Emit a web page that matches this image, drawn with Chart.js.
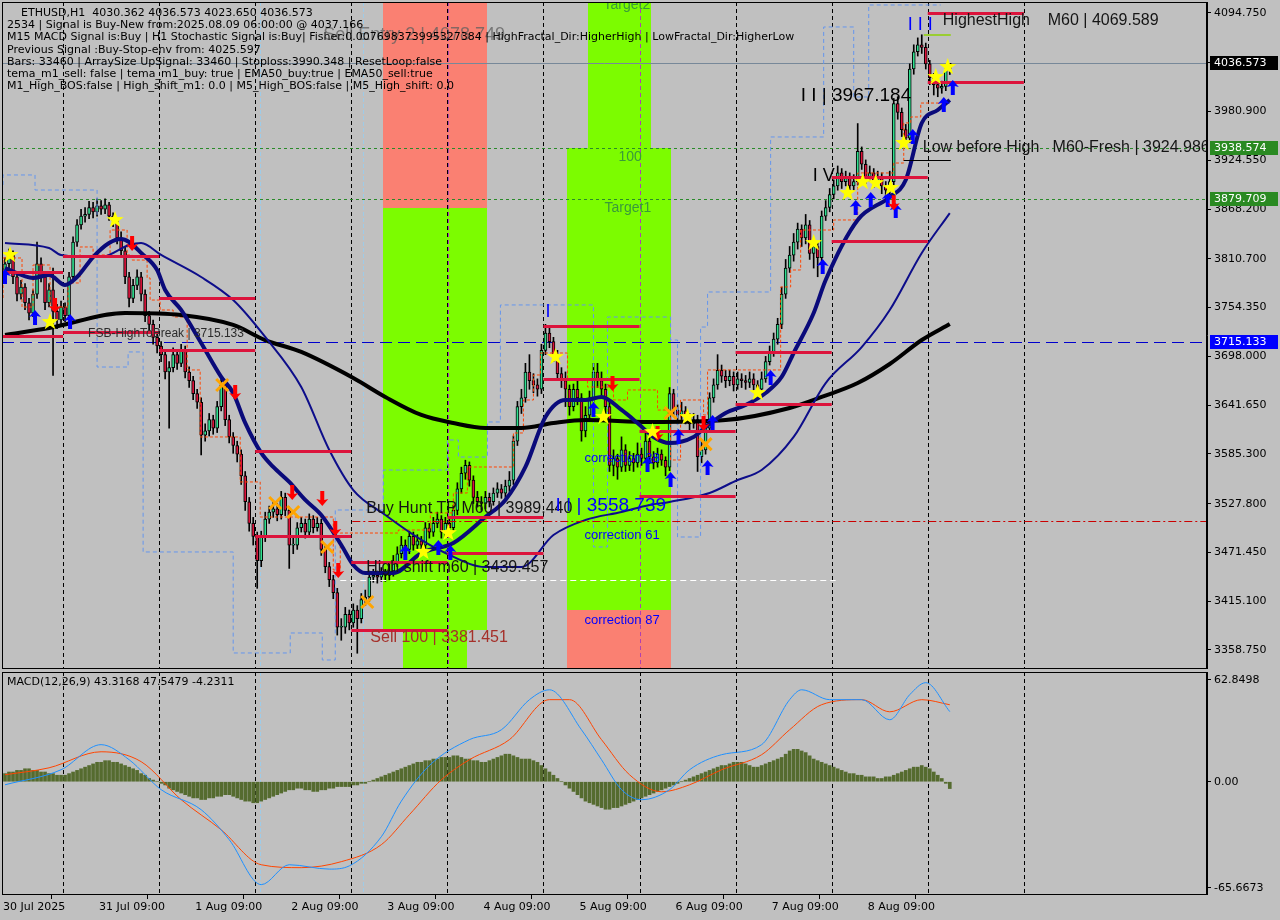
<!DOCTYPE html>
<html>
<head>
<meta charset="utf-8">
<title>ETHUSD,H1</title>
<script src="https://cdn.jsdelivr.net/npm/chart.js@4.4.1/dist/chart.umd.min.js"></script>
<style>
  body { margin: 0; background: #c0c0c0; }
  #wrap { position: relative; width: 1280px; height: 920px; overflow: hidden; background: #c0c0c0; }
  canvas { position: absolute; left: 0; }
  #priceChart { top: 0; }
  #macdChart { top: 670px; }
  .info { position: absolute; left: 7px; top: 7px; font: 11px "DejaVu Sans", sans-serif; line-height: 12.2px; color: #000; white-space: pre; }
  .sub { position: absolute; left: 7px; top: 675px; font: 11px "DejaVu Sans", sans-serif; color: #000; white-space: pre; }
</style>
</head>
<body>
<div id="wrap">
  <canvas id="priceChart" width="1280" height="670"></canvas>
  <canvas id="macdChart" width="1280" height="250"></canvas>
  <div class="info">    ETHUSD,H1  4030.362 4036.573 4023.650 4036.573
2534 | Signal is Buy-New from:2025.08.09 06:00:00 @ 4037.166
M15 MACD Signal is:Buy | H1 Stochastic Signal is:Buy| Fisher:0.007698373995327384 | HighFractal_Dir:HigherHigh | LowFractal_Dir:HigherLow
Previous Signal :Buy-Stop-env from: 4025.597
Bars: 33460 | ArraySize UpSignal: 33460 | Stoploss:3990.348 | ResetLoop:false
tema_m1_sell: false | tema_m1_buy: true | EMA50_buy:true | EMA50_sell:true
M1_High_BOS:false | High_shift_m1: 0.0 | M5_High_BOS:false | M5_High_shift: 0.0</div>
  <div class="sub">MACD(12,26,9) 43.3168 47.5479 -4.2311</div>
</div>
<script>
// ---- hourly bars, 30 Jul 09:00 -> 9 Aug 05:00 (bar index = hours) ----
const firstOpen = 3795;
const closes = [
  3805,3815,3790,3770,3778,3760,3748,3770,3805,3790,3760,3775,
  3750,3740,3755,3745,3790,3830,3850,3860,3862,3870,3865,3872,
  3868,3873,3860,3855,3835,3820,3790,3765,3780,3790,3770,3745,
  3735,3720,3710,3700,3680,3685,3700,3690,3705,3680,3670,3655,
  3645,3607,3612,3625,3615,3640,3665,3625,3605,3595,3585,3560,
  3530,3505,3490,3462,3490,3510,3518,3522,3515,3535,3520,3480,
  3480,3500,3505,3495,3510,3500,3505,3475,3455,3440,3425,3385,
  3385,3400,3390,3405,3395,3417,3420,3443,3445,3443,3447,3445,
  3450,3460,3470,3480,3475,3490,3480,3485,3480,3500,3495,3505,
  3510,3495,3505,3500,3520,3545,3563,3572,3555,3535,3530,3528,
  3535,3530,3540,3545,3540,3548,3555,3600,3640,3650,3680,3670,
  3665,3660,3705,3725,3715,3700,3678,3670,3660,3640,3660,3650,
  3612,3630,3650,3680,3670,3660,3640,3572,3580,3570,3590,3572,
  3580,3575,3585,3580,3600,3582,3575,3585,3578,3570,3655,3636,
  3630,3635,3628,3620,3625,3582,3590,3615,3650,3665,3682,3675,
  3670,3675,3665,3672,3670,3668,3672,3665,3660,3672,3692,3702,
  3718,3735,3770,3800,3815,3830,3845,3835,3850,3817,3825,3812,
  3860,3870,3885,3895,3910,3900,3905,3895,3900,3935,3920,3905,
  3910,3900,3905,3895,3890,3900,3990,3980,3960,3950,4030,4050,
  4058,4055,4036,4020,4012,4008,4010,4030.362,4036.573
];
const highs = [
  3812,3822,3820,3795,3786,3782,3765,3775,3830,3812,3795,3782,
  3800,3758,3762,3760,3795,3836,3856,3868,3870,3877,3876,3880,
  3878,3880,3876,3864,3858,3842,3825,3795,3787,3798,3795,3775,
  3750,3740,3726,3715,3705,3692,3708,3706,3712,3710,3686,3675,
  3660,3650,3620,3632,3630,3646,3672,3668,3630,3610,3600,3590,
  3565,3535,3512,3495,3496,3518,3525,3530,3528,3542,3540,3524,
  3490,3506,3512,3510,3516,3514,3512,3510,3480,3460,3445,3430,
  3395,3408,3405,3412,3410,3424,3428,3450,3452,3450,3454,3452,
  3458,3468,3478,3490,3486,3496,3495,3492,3490,3506,3505,3512,
  3518,3514,3512,3510,3526,3552,3570,3578,3576,3560,3542,3536,
  3542,3540,3546,3552,3550,3555,3565,3606,3646,3660,3690,3700,
  3678,3672,3712,3735,3732,3720,3705,3685,3680,3665,3666,3670,
  3655,3640,3658,3690,3690,3680,3666,3645,3590,3585,3605,3596,
  3588,3586,3598,3592,3610,3606,3588,3592,3590,3582,3662,3660,
  3642,3645,3640,3632,3632,3630,3600,3622,3656,3672,3700,3688,
  3682,3682,3680,3680,3678,3676,3680,3678,3670,3680,3698,3710,
  3725,3742,3778,3810,3825,3840,3852,3850,3862,3855,3832,3830,
  3866,3878,3892,3902,3918,3915,3912,3910,3908,3967,3940,3925,
  3918,3915,3912,3910,3900,3912,3996,3998,3985,3966,4036,4058,
  4066,4069.589,4060,4040,4025,4018,4016,4034,4036.573
];
const lows = [
  3788,3798,3782,3762,3764,3752,3740,3744,3765,3784,3752,3755,
  3676,3730,3735,3738,3740,3785,3825,3845,3853,3857,3858,3860,
  3862,3863,3855,3848,3828,3812,3782,3755,3760,3775,3762,3738,
  3728,3712,3702,3692,3672,3615,3680,3683,3686,3673,3662,3648,
  3638,3584,3600,3606,3608,3610,3635,3618,3598,3586,3576,3550,
  3520,3496,3480,3430,3455,3484,3505,3512,3508,3510,3514,3453,
  3470,3475,3495,3488,3490,3494,3496,3468,3448,3432,3418,3376,
  3370,3378,3382,3385,3355,3390,3410,3415,3437,3436,3438,3438,
  3440,3444,3455,3465,3468,3470,3474,3476,3473,3476,3488,3490,
  3500,3488,3490,3494,3496,3515,3540,3556,3548,3528,3524,3520,
  3522,3524,3526,3535,3534,3535,3542,3550,3595,3632,3645,3660,
  3656,3652,3655,3700,3708,3692,3670,3662,3640,3630,3635,3642,
  3600,3605,3625,3645,3662,3652,3632,3565,3560,3556,3565,3565,
  3566,3565,3570,3572,3575,3574,3568,3570,3572,3560,3566,3630,
  3620,3625,3620,3612,3615,3565,3575,3585,3610,3645,3660,3668,
  3662,3664,3658,3660,3662,3660,3662,3658,3652,3655,3668,3688,
  3698,3712,3730,3765,3795,3808,3822,3825,3828,3810,3800,3790,
  3808,3855,3865,3880,3890,3892,3895,3888,3890,3896,3914,3898,
  3900,3893,3895,3886,3882,3885,3895,3972,3952,3940,3945,4024,
  4045,4048,4030,4012,4000,3998,4002,4005,4023.65
];
const opens = closes.map((c, i) => (i === 0 ? firstOpen : closes[i - 1]));

// moving averages, read at sparse points [bar, price]
const ma200 = [[0,3722.7],[11,3730.8],[30,3748.1],[44,3745.8],[57,3734.3],[65,3716.9],[74,3703.1],[87,3673.0],[95,3651.1],[104,3630.3],[112,3621.0],[120,3615.3],[129,3615.3],[137,3621.0],[145,3624.5],[161,3622.2],[180,3624.5],[196,3638.4],[204,3651.1],[213,3667.2],[221,3689.2],[229,3716.9],[236,3735.4]];
const emaFast = [[0,3800.1],[7,3788.6],[11,3792.0],[15,3780.5],[18,3789.7],[22,3812.8],[26,3829.0],[29,3833.6],[31,3830.2],[34,3817.5],[38,3797.8],[40,3774.7],[44,3751.6],[49,3713.4],[54,3674.2],[57,3655.7],[60,3621.1],[64,3586.4],[67,3570.2],[71,3552.9],[75,3532.1],[79,3514.7],[84,3480.1],[87,3457.0],[90,3447.7],[97,3447.7],[104,3470.8],[112,3482.4],[120,3512.4],[125,3532.1],[130,3570.2],[135,3628.0],[140,3647.6],[145,3647.6],[149,3651.1],[154,3636.1],[158,3621.0],[162,3604.9],[166,3597.9],[172,3604.9],[175,3616.4],[180,3632.6],[185,3641.8],[190,3655.7],[194,3674.2],[197,3701.9],[202,3748.1],[205,3786.2],[213,3855.6],[221,3882.2],[225,3901.8],[229,3967.6],[233,3982.7],[236,3994.2]];
const emaSlow = [[0,3829.0],[11,3823.2],[14,3815.2],[24,3812.8],[31,3826.7],[34,3829.0],[39,3815.2],[49,3789.7],[57,3763.1],[65,3720.4],[74,3662.6],[81,3589.8],[87,3543.6],[95,3514.7],[104,3485.9],[110,3470.8],[120,3454.6],[129,3454.6],[137,3491.6],[145,3509.0],[154,3518.2],[161,3526.3],[166,3529.8],[176,3540.2],[183,3555.2],[189,3566.7],[197,3604.9],[205,3667.2],[214,3708.8],[221,3751.6],[229,3817.5],[236,3863.6]];
// stepped trailing lines [start bar, level]
const trailStop = [[-0.5,3765.5],[4.25,3811.7],[7,3755.0],[11.25,3803.6],[15.75,3755.0],[18.75,3782.8],[22,3824.4],[26.25,3815.2],[30.5,3844.0],[31.75,3815.2],[35.5,3809.3],[36.25,3788.6],[38.75,3763.1],[42,3751.6],[45.5,3743.5],[48.75,3682.3],[58.75,3604.9],[63.75,3552.9],[82,3512.4],[83.75,3451.2],[98.25,3493.9],[106.25,3497.4],[112,3517.1],[115.5,3540.2],[127,3570.2],[129.5,3609.5],[132,3647.6],[133.75,3676.5],[140.5,3701.9],[145.5,3670.7],[152,3662.6],[155.5,3647.6],[163,3659.2],[166.25,3636.0],[168.75,3578.3],[174.5,3647.6],[175.5,3630.3],[193.75,3682.3],[196.25,3778.2],[198.75,3797.8],[207,3844.0],[213,3855.6],[222,3909.9],[224.5,3921.4],[226.25,3967.7],[228.75,3974.6],[230.5,3990.7],[236.25,3990.7]];
const envelope = [[-0.5,3896.0],[7.5,3907.6],[23,3890.2],[30.75,3685.7],[34.5,3703.1],[57,3472.0],[71.25,3355.3],[79.25,3378.4],[82.5,3347.2],[94.5,3520.5],[110.5,3566.7],[113.25,3601.4],[120.5,3581.7],[123.75,3622.2],[147,3757.4],[150.5,3477.8],[166.25,3743.5],[168,3716.9],[173.75,3489.3],[175.5,3731.9],[191.25,3772.4],[204.5,3951.5],[212,4078.6],[215.75,3997.7],[223,4104.0],[233.75,4104.0]];

// ---- MACD panel ----
const macdHist = [
  5,6,6,7,7,8,8,7,7,6,6,5,5,4,4,
  4,5,6,7,8,9,
  10,11,12,12,13,13,12,12,11,10,9,
  8,7,5,4,2,1,0,
  -1,-2,-4,-5,-6,-7,-8,-9,-10,-10,-11,-11,-10,-10,-9,-9,-8,-8,-9,-10,-11,-12,
  -12,-13,-13,-12,-11,-10,-9,-8,-7,-6,-5,
  -5,-4,-4,-5,-5,-6,-6,-5,-5,-4,-4,-3,-3,-3,
  -3,-2,-2,-1,-1,0,1,2,3,4,
  5,6,7,8,9,10,11,12,12,13,13,14,14,15,15,
  15,16,16,15,14,14,13,13,12,12,13,14,15,16,17,17,16,15,14,14,
  14,13,12,10,8,6,4,2,0,-2,-4,-6,
  -8,-10,-12,-13,-14,-15,-16,-17,-17,-16,-16,-15,-14,-13,-12,-11,-10,-9,-8,-7,-6,-5,-4,
  -3,-2,-1,0,1,2,3,
  4,5,6,7,8,9,10,10,11,12,12,12,11,10,9,9,10,11,
  12,13,14,15,17,19,20,20,19,18,
  16,14,13,12,11,10,9,8,7,6,5,5,4,4,3,
  3,3,2,2,3,3,4,5,6,
  7,8,9,9,10,9,8,6,4,2,-1,-4.2311
];
const macdMain = [[0,-1.9],[14,7.4],[24,22.9],[31,13.6],[39,-4.9],[49,-17.3],[56,-35.8],[64,-63.6],[71,-51.3],[81,-54],[86,-52],[94,-34],[99,-12],[106,10],[116,26.0],[124,32.1],[131,50.7],[136,56.8],[144,32.1],[149,13.6],[154,-4.9],[159,-11.1],[166,-4.9],[171,7.4],[179,16.7],[189,22.9],[196,50.7],[199,56.8],[206,50.7],[214,50.7],[221,38.3],[226,53.8],[230,61.2],[236,43.3168]];
const macdSignal = [[0,4.3],[11,8.6],[24,18.5],[34,12.4],[44,-11.1],[54,-29.7],[64,-51.3],[74,-53.1],[84,-49.4],[94,-38.9],[101,-20.4],[109,1.2],[116,13.6],[126,26.0],[136,50.7],[141,50.7],[149,26.0],[156,4.3],[164,-6.2],[171,-1.9],[179,7.4],[189,16.7],[196,32.1],[204,47.6],[214,50.7],[221,43.2],[229,50.7],[236,47.5479]];

// ---- axes ----
const priceTicks = [4094.750, 4037.825, 3980.900, 3924.550, 3868.200, 3810.700, 3754.350, 3698.000, 3641.650, 3585.300, 3527.800, 3471.450, 3415.100, 3358.750];
const macdTicks = [62.8498, 0, -65.6673];
const macdTickLabels = ['62.8498', '0.00', '-65.6673'];
const timeTicks = [-0.5, 23.5, 47.5, 71.5, 95.5, 119.5, 143.5, 167.5, 191.5, 215.5];
const timeLabels = ['30 Jul 2025', '31 Jul 09:00', '1 Aug 09:00', '2 Aug 09:00', '3 Aug 09:00', '4 Aug 09:00', '5 Aug 09:00', '6 Aug 09:00', '7 Aug 09:00', '8 Aug 09:00'];
const daySeparators = [14.5, 38.5, 62.5, 86.5, 110.5, 134.5, 158.5, 182.5, 206.5, 230.5, 254.5];
const blueMarkers = [63.75, 89.5];
const purpleMarkers = [110.75, 158.5];

// ---- chart objects (bar range / price) ----
const zones = [
  [94.5, 120.5, 4200, 3869.4, 'sell'],
  [94.5, 120.5, 3869.4, 3381.451, 'buy'],
  [99.5, 115.5, 3381.451, 3300, 'buy'],
  [145.75, 161.25, 4200, 3938.574, 'buy'],
  [140.5, 166.25, 3938.574, 3405, 'buy'],
  [140.5, 166.25, 3405, 3300, 'sell']
];
const fullLevels = [[4036.573, 'last'], [3938.574, 'target'], [3879.709, 'target'], [3715.133, 'fsb']];
const dailyLevels = [
  [-0.75, 14.5, 3795.5], [-0.75, 14.5, 3721.6],
  [14.5, 38.5, 3814.0], [14.5, 38.5, 3726.2],
  [38.5, 62.5, 3765.5], [38.5, 62.5, 3705.4],
  [62.5, 86.5, 3588.7], [62.5, 86.5, 3490.5],
  [86.5, 110.5, 3460.4], [86.5, 110.5, 3381.451],
  [110.5, 134.5, 3512.4], [110.5, 134.5, 3470.8],
  [134.5, 158.5, 3733.1], [134.5, 158.5, 3671.9],
  [158.5, 182.5, 3611.8], [158.5, 182.5, 3536.7],
  [182.5, 206.5, 3703.1], [182.5, 206.5, 3643.0],
  [206.5, 230.5, 3905.3], [206.5, 230.5, 3831.3],
  [230.5, 254.5, 4094.6], [230.5, 254.5, 4015.0]
];
const otherLevels = [
  [86.75, 301, 3507.8, 'dashdot'],
  [83.75, 207.5, 3439.457, 'white'],
  [229.5, 236.25, 4069.589, 'lime'],
  [224.5, 236.25, 3924.986, 'black']
];
const notes = [
  [79.5, 4069.3, 'Sell Entry 2 | 4078.749', 'ghost'],
  [20.75, 3723.9, 'FSB-HighToBreak | 3715.133', 'fsb'],
  [90.25, 3521.7, 'Buy Hunt TP M60 | 3989.440', 'big'],
  [137.5, 3525.1, 'I I | 3558.739', 'blueBig'],
  [90.25, 3453.5, 'High shift m60 | 3439.457', 'big'],
  [91.25, 3372.6, 'Sell 100 | 3381.451', 'sell'],
  [198.75, 3998.9, 'I I | 3967.184', 'huge'],
  [229.25, 3938.7, 'Low before High   M60-Fresh | 3924.986', 'big'],
  [234.25, 4085.5, 'HighestHigh    M60 | 4069.589', 'big'],
  [225.5, 4080.9, 'I I I', 'blueMark'],
  [201.75, 3906.4, 'I V', 'blackMark'],
  [135.0, 3749.3, 'I', 'blueMark'],
  [149.5, 4104.0, 'Target2', 'target'],
  [153.25, 3928.4, '100', 'target'],
  [149.75, 3869.4, 'Target1', 'target'],
  [144.75, 3580.6, 'correction 38', 'corr'],
  [144.75, 3491.6, 'correction 61', 'corr'],
  [144.75, 3393.4, 'correction 87', 'corr']
];
const starMarks = [[1.25,3815.2],[11.25,3737.7],[27.5,3855.6],[104.5,3472.0],[110.75,3493.9],[137.5,3697.3],[149.5,3628.0],[161.75,3610.6],[170.5,3628.0],[188,3655.7],[202,3829.0],[210.5,3886.8],[214.25,3899.5],[217.5,3898.3],[221.25,3892.6],[224.5,3944.5],[232.5,4020.8],[235.5,4032.4]];
const buyArrows = [[0,3789.7],[7.5,3742.3],[16.25,3737.7],[100,3470.8],[108.25,3476.6],[111.25,3470.8],[147,3636.0],[160.5,3572.5],[166.25,3555.2],[168.25,3604.9],[175.5,3569.0],[176.75,3621.0],[191.25,3673.0],[204.25,3801.3],[212.5,3869.4],[216.25,3878.7],[220.5,3878.7],[222.5,3866.0],[226.75,3951.5],[234.5,3988.5],[236.75,4008.1]];
const sellArrows = [[12.5,3757.4],[31.75,3829.0],[57.5,3656.9],[71.75,3541.3],[79.25,3534.4],[82.5,3499.7],[83.25,3451.2],[151.75,3667.2],[163,3609.5],[174.5,3621.0],[222,3876.0]];
const crossMarks = [[54.25,3664.9],[67.5,3528.6],[72,3518.2],[80.5,3477.8],[90.5,3414.2],[166.25,3632.6],[175,3596.6]];
const priceTags = [[4036.573, 'last'], [3938.574, 'target'], [3879.709, 'target'], [3715.133, 'fsb']];

// ---- styles ----
const zoneColors = { sell: '#fa8072', buy: '#7cfc00' };
const levelStyles = {
  last: { color: '#778899', dash: [] },
  target: { color: '#2a8a2a', dash: [3, 3] },
  fsb: { color: '#0000cd', dash: [12, 6] },
  dashdot: { color: '#cc0000', dash: [8, 3, 2, 3] },
  white: { color: '#ffffff', dash: [6, 4] },
  lime: { color: '#9acd32', dash: [] },
  black: { color: '#000000', dash: [] }
};
const tagColors = { last: '#000000', target: '#2a8a22', fsb: '#0000ff' };
const LS = '"Liberation Sans", Arial, sans-serif';
const noteStyles = {
  ghost: { font: '18px ' + LS, color: 'rgba(95,95,95,0.75)' },
  fsb: { font: '12px ' + LS, color: '#2b2b2b' },
  big: { font: '16px ' + LS, color: '#151515' },
  blueBig: { font: '19px ' + LS, color: '#0000ff' },
  sell: { font: '16px ' + LS, color: '#a5302a' },
  huge: { font: '19px ' + LS, color: '#000000' },
  blueMark: { font: '18px ' + LS, color: '#0000ff' },
  blackMark: { font: '18px ' + LS, color: '#000000' },
  target: { font: '14px ' + LS, color: '#3a9a3a' },
  corr: { font: '13px ' + LS, color: '#0000ff' }
};
const AXIS_FONT = { family: '"DejaVu Sans", sans-serif', size: 11 };

function vLine(ctx, a, px, color, dash) {
  const xx = Math.round(px) + 0.5;
  ctx.strokeStyle = color; ctx.lineWidth = 1; ctx.setLineDash(dash);
  ctx.beginPath(); ctx.moveTo(xx, a.top); ctx.lineTo(xx, a.bottom); ctx.stroke();
}
function hLine(ctx, x1, x2, py, color, dash, w) {
  const yy = Math.round(py) + (w % 2 ? 0.5 : 0);
  ctx.strokeStyle = color; ctx.lineWidth = w; ctx.setLineDash(dash);
  ctx.beginPath(); ctx.moveTo(x1, yy); ctx.lineTo(x2, yy); ctx.stroke();
}
function star(ctx, cx, cy) {
  ctx.beginPath();
  for (let k = 0; k < 10; k++) {
    const ang = -Math.PI / 2 + k * Math.PI / 5, r = k % 2 ? 3.6 : 9;
    ctx.lineTo(cx + r * Math.cos(ang), cy + r * Math.sin(ang));
  }
  ctx.closePath(); ctx.fillStyle = '#ffff00'; ctx.fill();
}
function arrow(ctx, cx, cy, dir, color) {
  const s = dir; // 1 = up, -1 = down
  ctx.beginPath();
  ctx.moveTo(cx, cy - 8 * s);
  ctx.lineTo(cx + 6, cy - 1 * s); ctx.lineTo(cx + 2, cy - 2 * s);
  ctx.lineTo(cx + 2, cy + 7 * s); ctx.lineTo(cx - 2, cy + 7 * s);
  ctx.lineTo(cx - 2, cy - 2 * s); ctx.lineTo(cx - 6, cy - 1 * s);
  ctx.closePath(); ctx.fillStyle = color; ctx.fill();
}
function cross(ctx, cx, cy) {
  ctx.strokeStyle = '#ffa500'; ctx.lineWidth = 3; ctx.setLineDash([]);
  ctx.beginPath();
  ctx.moveTo(cx - 6, cy - 6); ctx.lineTo(cx + 6, cy + 6);
  ctx.moveTo(cx + 6, cy - 6); ctx.lineTo(cx - 6, cy + 6);
  ctx.stroke();
}

const priceOverlay = {
  id: 'priceOverlay',
  beforeDatasetsDraw(chart) {
    const { ctx, chartArea: a, scales: { x, y } } = chart;
    ctx.save();
    ctx.beginPath(); ctx.rect(a.left, a.top, a.width, a.height); ctx.clip();
    for (const [i1, i2, p1, p2, kind] of zones) {
      const x1 = x.getPixelForValue(i1), x2 = x.getPixelForValue(i2);
      const y1 = y.getPixelForValue(p1), y2 = y.getPixelForValue(p2);
      ctx.fillStyle = zoneColors[kind];
      ctx.fillRect(Math.round(x1), Math.round(y1), Math.round(x2) - Math.round(x1), Math.round(y2) - Math.round(y1));
    }
    daySeparators.forEach(v => vLine(ctx, a, x.getPixelForValue(v), '#000', [4, 3]));
    blueMarkers.forEach(v => vLine(ctx, a, x.getPixelForValue(v), '#9ecbe8', [4, 2]));
    purpleMarkers.forEach(v => vLine(ctx, a, x.getPixelForValue(v), '#b040b0', [4, 3]));
    for (const [p, kind] of fullLevels) {
      const st = levelStyles[kind];
      hLine(ctx, a.left, a.right, y.getPixelForValue(p), st.color, st.dash, 1);
    }
    ctx.restore();
  },
  afterDatasetsDraw(chart) {
    const { ctx, chartArea: a, scales: { x, y } } = chart;
    ctx.save();
    ctx.beginPath(); ctx.rect(a.left, a.top, a.width, a.height); ctx.clip();
    for (const [i1, i2, p] of dailyLevels) {
      hLine(ctx, x.getPixelForValue(i1), x.getPixelForValue(i2), y.getPixelForValue(p), '#dc143c', [], 3);
    }
    for (const [i1, i2, p, kind] of otherLevels) {
      const st = levelStyles[kind];
      hLine(ctx, x.getPixelForValue(i1), x.getPixelForValue(i2), y.getPixelForValue(p), st.color, st.dash, kind === 'lime' ? 2 : 1);
    }
    ctx.setLineDash([]);
    crossMarks.forEach(([i, p]) => cross(ctx, x.getPixelForValue(i), y.getPixelForValue(p)));
    buyArrows.forEach(([i, p]) => arrow(ctx, x.getPixelForValue(i), y.getPixelForValue(p), 1, '#0000ff'));
    sellArrows.forEach(([i, p]) => arrow(ctx, x.getPixelForValue(i), y.getPixelForValue(p), -1, '#ff0000'));
    starMarks.forEach(([i, p]) => star(ctx, x.getPixelForValue(i), y.getPixelForValue(p)));
    ctx.textAlign = 'left'; ctx.textBaseline = 'middle';
    for (const [i, p, text, kind] of notes) {
      const st = noteStyles[kind];
      ctx.font = st.font; ctx.fillStyle = st.color;
      ctx.fillText(text, x.getPixelForValue(i), y.getPixelForValue(p));
    }
    ctx.restore();
  },
  afterDraw(chart) {
    const { ctx, chartArea: a, scales: { y } } = chart;
    ctx.save();
    ctx.strokeStyle = '#000'; ctx.lineWidth = 1; ctx.setLineDash([]);
    ctx.strokeRect(a.left + 0.5, a.top + 0.5, a.width - 1, a.height);
    ctx.font = '11px "DejaVu Sans", sans-serif'; ctx.textAlign = 'left'; ctx.textBaseline = 'middle';
    for (const [p, kind] of priceTags) {
      const py = Math.round(y.getPixelForValue(p));
      ctx.fillStyle = tagColors[kind];
      ctx.fillRect(a.right + 3, py - 7, 68, 14);
      ctx.fillStyle = '#fff';
      ctx.fillText(p.toFixed(3), a.right + 7, py + 0.5);
    }
    ctx.restore();
  }
};

const macdOverlay = {
  id: 'macdOverlay',
  beforeDatasetsDraw(chart) {
    const { ctx, chartArea: a, scales: { x } } = chart;
    ctx.save();
    daySeparators.forEach(v => vLine(ctx, a, x.getPixelForValue(v), '#000', [4, 3]));
    blueMarkers.forEach(v => vLine(ctx, a, x.getPixelForValue(v), '#9ecbe8', [4, 2]));
    ctx.restore();
  },
  afterDraw(chart) {
    const { ctx, chartArea: a } = chart;
    ctx.save();
    ctx.strokeStyle = '#000'; ctx.lineWidth = 1;
    ctx.strokeRect(a.left + 0.5, a.top + 0.5, a.width - 1, a.height);
    ctx.restore();
  }
};

Chart.defaults.animation = false;
Chart.defaults.font.family = '"DejaVu Sans", sans-serif';
const toPts = arr => arr.map(([x, y]) => ({ x, y }));
const lineBase = { type: 'line', pointRadius: 0, fill: false };
// keep the chart area edge-to-edge: no extra room for half tick labels
const fitY = s => { s.width = 73; s.paddingTop = 0; s.paddingBottom = 0; };

new Chart(document.getElementById('priceChart'), {
  type: 'bar',
  data: {
    datasets: [
      { data: highs.map((h, i) => ({ x: i, y: [lows[i], h] })), backgroundColor: '#000', barThickness: 1, grouped: false, order: 10 },
      {
        data: closes.map((c, i) => ({ x: i, y: [opens[i], c] })),
        backgroundColor: ctx => (closes[ctx.dataIndex] >= opens[ctx.dataIndex] ? '#30e090' : '#dc143c'),
        borderColor: '#000', borderWidth: 1, borderSkipped: false, barThickness: 3, minBarLength: 1, grouped: false, order: 9
      },
      { ...lineBase, data: toPts(envelope), borderColor: '#6495ed', borderWidth: 1, borderDash: [4, 3], stepped: 'after', order: 8 },
      { ...lineBase, data: toPts(trailStop), borderColor: '#ff4500', borderWidth: 1, borderDash: [3, 2], stepped: 'after', order: 7 },
      { ...lineBase, data: toPts(ma200), borderColor: '#000000', borderWidth: 4, cubicInterpolationMode: 'monotone', order: 3 },
      { ...lineBase, data: toPts(emaSlow), borderColor: '#0d0d8a', borderWidth: 2, cubicInterpolationMode: 'monotone', order: 2 },
      { ...lineBase, data: toPts(emaFast), borderColor: '#0a0a7a', borderWidth: 4, cubicInterpolationMode: 'monotone', order: 1 }
    ]
  },
  options: {
    responsive: false,
    devicePixelRatio: 1,
    layout: { padding: { left: 2, top: 2, right: 0, bottom: 2 } },
    plugins: { legend: { display: false }, tooltip: { enabled: false } },
    scales: {
      x: { type: 'linear', min: -0.75, max: 300.25, offset: false, display: false },
      y: {
        position: 'right', min: 3337.95, max: 4107.45,
        afterFit: fitY,
        afterBuildTicks: s => { s.ticks = priceTicks.map(v => ({ value: v })); },
        ticks: { callback: v => v.toFixed(3), color: '#000', font: AXIS_FONT, padding: 3 },
        grid: { drawOnChartArea: false, drawTicks: true, tickLength: 4, color: '#000' },
        border: { color: '#000' }
      }
    }
  },
  plugins: [priceOverlay]
});

new Chart(document.getElementById('macdChart'), {
  type: 'bar',
  data: {
    datasets: [
      { data: macdHist.map((v, i) => ({ x: i, y: v })), backgroundColor: '#556b2f', barThickness: 3, grouped: false, order: 5 },
      { ...lineBase, data: toPts(macdSignal), borderColor: '#ff4500', borderWidth: 1, cubicInterpolationMode: 'monotone', order: 2 },
      { ...lineBase, data: toPts(macdMain), borderColor: '#1e90ff', borderWidth: 1, cubicInterpolationMode: 'monotone', order: 1 }
    ]
  },
  options: {
    responsive: false,
    devicePixelRatio: 1,
    layout: { padding: { left: 2, top: 2, right: 0, bottom: 0 } },
    plugins: { legend: { display: false }, tooltip: { enabled: false } },
    scales: {
      x: {
        type: 'linear', min: -0.75, max: 300.25, offset: false,
        afterFit: s => { s.height = 26; s.paddingLeft = 0; s.paddingRight = 0; },
        afterBuildTicks: s => { s.ticks = timeTicks.map(v => ({ value: v })); },
        ticks: { callback: (v, idx) => timeLabels[idx], align: 'start', autoSkip: false, maxRotation: 0, color: '#000', font: AXIS_FONT, padding: 2 },
        grid: { drawOnChartArea: false, drawTicks: true, tickLength: 5, color: '#000' },
        border: { color: '#000' }
      },
      y: {
        position: 'right', min: -69.375, max: 67.79,
        afterFit: fitY,
        afterBuildTicks: s => { s.ticks = macdTicks.map(v => ({ value: v })); },
        ticks: { callback: (v, idx) => macdTickLabels[idx], color: '#000', font: AXIS_FONT, padding: 3 },
        grid: { drawOnChartArea: false, drawTicks: true, tickLength: 4, color: '#000' },
        border: { color: '#000' }
      }
    }
  },
  plugins: [macdOverlay]
});
</script>
</body>
</html>
